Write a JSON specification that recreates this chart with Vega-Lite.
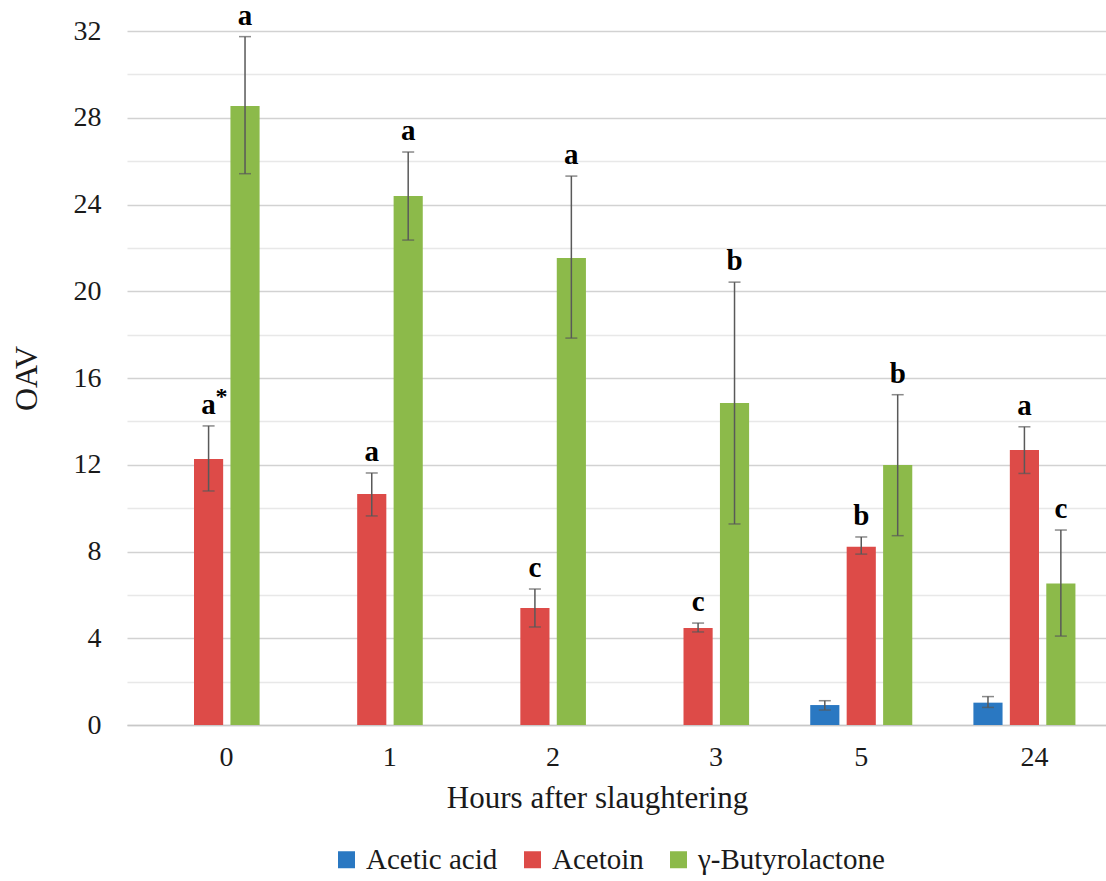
{
  "$schema": "https://vega.github.io/schema/vega-lite/v6.json",
  "autosize": {"type": "none"},
  "width": 979,
  "height": 694,
  "padding": {"left": 127, "top": 31, "right": 0, "bottom": 156},
  "background": "white",
  "config": {
    "font": "Liberation Serif",
    "view": {"stroke": null},
    "axis": {"labelFont": "Liberation Serif", "titleFont": "Liberation Serif", "labelColor": "#1a1a1a", "titleColor": "#1a1a1a", "titleFontWeight": "normal"},
    "legend": {"labelFont": "Liberation Serif"},
    "text": {"font": "Liberation Serif"}
  },
  "data": {
    "values": [
      {"hour": "0", "compound": "Acetoin", "value": 12.26, "lo": 10.79, "hi": 13.79, "letter": "a", "sup": "*"},
      {"hour": "0", "compound": "γ-Butyrolactone", "value": 28.54, "lo": 25.42, "hi": 31.74, "letter": "a", "sup": ""},
      {"hour": "1", "compound": "Acetoin", "value": 10.65, "lo": 9.64, "hi": 11.62, "letter": "a", "sup": ""},
      {"hour": "1", "compound": "γ-Butyrolactone", "value": 24.39, "lo": 22.36, "hi": 26.42, "letter": "a", "sup": ""},
      {"hour": "2", "compound": "Acetoin", "value": 5.39, "lo": 4.52, "hi": 6.27, "letter": "c", "sup": ""},
      {"hour": "2", "compound": "γ-Butyrolactone", "value": 21.53, "lo": 17.84, "hi": 25.31, "letter": "a", "sup": ""},
      {"hour": "3", "compound": "Acetoin", "value": 4.47, "lo": 4.29, "hi": 4.7, "letter": "c", "sup": ""},
      {"hour": "3", "compound": "γ-Butyrolactone", "value": 14.85, "lo": 9.27, "hi": 20.42, "letter": "b", "sup": ""},
      {"hour": "5", "compound": "Acetic acid", "value": 0.92, "lo": 0.69, "hi": 1.12, "letter": "", "sup": ""},
      {"hour": "5", "compound": "Acetoin", "value": 8.22, "lo": 7.88, "hi": 8.67, "letter": "b", "sup": ""},
      {"hour": "5", "compound": "γ-Butyrolactone", "value": 11.99, "lo": 8.73, "hi": 15.23, "letter": "b", "sup": ""},
      {"hour": "24", "compound": "Acetic acid", "value": 1.03, "lo": 0.81, "hi": 1.31, "letter": "", "sup": ""},
      {"hour": "24", "compound": "Acetoin", "value": 12.68, "lo": 11.6, "hi": 13.75, "letter": "a", "sup": ""},
      {"hour": "24", "compound": "γ-Butyrolactone", "value": 6.53, "lo": 4.1, "hi": 8.99, "letter": "c", "sup": ""}
    ]
  },
  "encoding": {
    "x": {
      "field": "hour", "type": "nominal", "sort": ["0", "1", "2", "3", "5", "24"],
      "scale": {"domain": ["0", "1", "2", "3", "5", "24"], "paddingInner": 0.33, "paddingOuter": 0.165},
      "axis": {
        "title": "Hours after slaughtering", "labelAngle": 0, "labelFontSize": 28, "titleFontSize": 31,
        "ticks": false, "labelPadding": 18, "titlePadding": 12, "titleX": 470,
        "labelOffset": {"condition": [{"test": "indexof(['0','1','2','3'], datum.value) >= 0", "value": 18}, {"test": "datum.value === '24'", "value": 10}], "value": 0},
        "domain": true, "domainColor": "#c8c8c8", "domainWidth": 1.5, "grid": false
      }
    },
    "xOffset": {
      "field": "compound", "type": "nominal",
      "scale": {"domain": ["Acetic acid", "Acetoin", "γ-Butyrolactone"], "paddingInner": 0.2, "paddingOuter": 0.1}
    }
  },
  "layer": [
    {
      "mark": {"type": "bar"},
      "encoding": {
        "y": {
          "field": "value", "type": "quantitative",
          "scale": {"domain": [0, 32], "nice": false},
          "axis": {
            "title": "OAV", "titleFontSize": 32, "labelFontSize": 28, "labelPadding": 26, "titlePadding": 30,
            "values": [0,1,2,3,4,5,6,7,8,9,10,11,12,13,14,15,16,17,18,19,20,21,22,23,24,25,26,27,28,29,30,31,32],
            "labelExpr": "datum.value % 4 === 0 ? datum.label : ''",
            "ticks": false, "domain": false, "grid": true,
            "gridColor": {"condition": {"test": "datum.value % 4 === 0", "value": "#d2d2d2"}, "value": "#e8e8e8"},
            "gridWidth": 1.5
          }
        },
        "color": {
          "field": "compound", "type": "nominal",
          "scale": {"domain": ["Acetic acid", "Acetoin", "γ-Butyrolactone"], "range": ["#2a78c2", "#dd4b48", "#8cba4a"]},
          "legend": {
            "title": null, "orient": "none", "direction": "horizontal", "legendX": 205, "legendY": 814,
            "symbolType": "square", "symbolSize": 289, "symbolStrokeWidth": 0,
            "labelFont": "Liberation Serif", "labelFontSize": 29, "labelColor": "#1a1a1a",
            "columnPadding": 20, "labelOffset": 5, "labelLimit": 400
          }
        }
      }
    },
    {
      "mark": {"type": "rule", "color": "#595959", "strokeWidth": 1.5},
      "encoding": {
        "y": {"field": "lo", "type": "quantitative"},
        "y2": {"field": "hi"}
      }
    },
    {
      "mark": {"type": "tick", "color": "#595959", "thickness": 1.5, "size": 12, "orient": "horizontal"},
      "encoding": {"y": {"field": "lo", "type": "quantitative"}}
    },
    {
      "mark": {"type": "tick", "color": "#595959", "thickness": 1.5, "size": 12, "orient": "horizontal"},
      "encoding": {"y": {"field": "hi", "type": "quantitative"}}
    },
    {
      "transform": [{"filter": "datum.letter !== ''"}],
      "mark": {"type": "text", "font": "Liberation Serif", "fontWeight": "bold", "fontSize": 29, "baseline": "alphabetic", "dy": -12, "color": "#000000"},
      "encoding": {
        "y": {"field": "hi", "type": "quantitative"},
        "text": {"field": "letter"}
      }
    },
    {
      "transform": [{"filter": "datum.sup !== ''"}],
      "mark": {"type": "text", "font": "Liberation Serif", "fontWeight": "bold", "fontSize": 24, "baseline": "alphabetic", "align": "left", "dx": 7, "dy": -22, "color": "#000000"},
      "encoding": {
        "y": {"field": "hi", "type": "quantitative"},
        "text": {"field": "sup"}
      }
    }
  ]
}
